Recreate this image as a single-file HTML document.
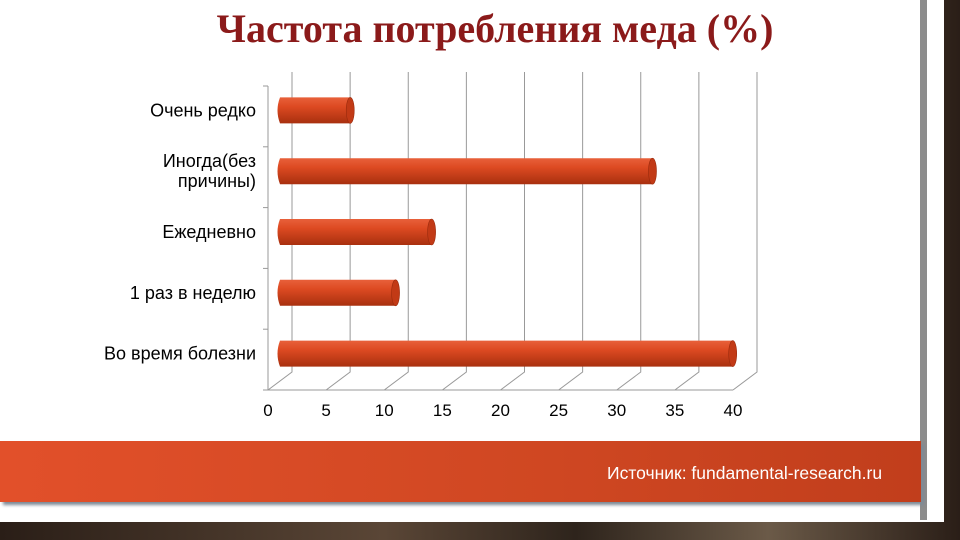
<!DOCTYPE html>
<html><head><meta charset="utf-8"><style>
body{margin:0;width:960px;height:540px;overflow:hidden;background:#3a2a20;font-family:"Liberation Sans",sans-serif}
#bg{position:absolute;left:0;top:0;width:960px;height:540px;background:linear-gradient(90deg,#2a1e17,#5a4636 40%,#2e241c 60%,#6b5a48 80%,#2a1e17)}
#slide{position:absolute;left:0;top:0;width:944px;height:522px;background:#fff}
#edge{position:absolute;left:920px;top:0;width:7px;height:520px;background:#8c8c8c}
#title{position:absolute;left:0;width:990px;top:5px;text-align:center;font-family:"Liberation Serif",serif;font-weight:bold;font-size:40px;color:#8b1a1a}
#band{position:absolute;left:0;top:441px;width:921px;height:61px;background:linear-gradient(90deg,#e2502a,#cf4722 60%,#c13e1c);box-shadow:3px 3px 3px #7d8a96}
#src{position:absolute;left:607px;top:463px;color:#fff;font-size:17.5px}
</style></head><body>
<div id="bg"></div>
<div id="slide"></div>
<div id="edge"></div>
<div id="title">Частота потребления меда (%)</div>
<svg id="chart" width="960" height="540" style="position:absolute;left:0;top:0">
<defs><linearGradient id="bg1" x1="0" y1="0" x2="0" y2="1"><stop offset="0" stop-color="#e8603a"/><stop offset="0.35" stop-color="#dd4a22"/><stop offset="1" stop-color="#a8300f"/></linearGradient></defs>
</svg>
<div id="band"></div>
<div id="src">Источник: fundamental-research.ru</div>
<script>
const categories=["Очень редко","Иногда(без причины)","Ежедневно","1 раз в неделю","Во время болезни"];
const values=[6.3,32.3,13.3,10.2,39.2];
const ticks=[0,5,10,15,20,25,30,35,40];
const svg=document.getElementById('chart');const NS='http://www.w3.org/2000/svg';
const x0=268,x1=733,vmax=40,yTop=86,yBot=390,dx=24,dy=-18;
const x=v=>x0+(x1-x0)*v/vmax;
const band=(yBot-yTop)/categories.length;
function mk(t,a,p){const e=document.createElementNS(NS,t);for(const k in a)e.setAttribute(k,a[k]);(p||svg).appendChild(e);return e;}
ticks.forEach(t=>{
 const g=mk('path',{d:`M${x(t)},${yBot} L${x(t)+dx},${yBot+dy} L${x(t)+dx},${yTop-14}`,stroke:'#999',fill:'none','stroke-width':1});
 
 
 const l=mk('text',{x:x(t),y:yBot+26,'text-anchor':'middle','font-size':17,fill:'#000','font-family':'Liberation Sans'});l.textContent=t;
 
 
});
const ax=mk('path',{d:`M${x0},${yTop} L${x0},${yBot} L${x1},${yBot}`,stroke:'#999',fill:'none'});


for(let i=0;i<=categories.length;i++){const t=mk('line',{x1:x0-5,x2:x0,y1:yTop+i*band,y2:yTop+i*band,stroke:'#999'});
 
 }
categories.forEach((c,i)=>{
 const cy=yTop+band*(i+0.5)-6,h=26,xs=x0+9,xe=xs+(x(values[i])-x0);
 const b=mk('path',{d:`M${xs+3},${cy-h/2} L${xe},${cy-h/2} Q${xe+6},${cy} ${xe},${cy+h/2} L${xs+3},${cy+h/2} Q${xs-2},${cy} ${xs+3},${cy-h/2}Z`,fill:'url(#bg1)'});
 
 
 const e=mk('ellipse',{cx:xe,cy:cy,rx:4,ry:h/2,fill:'#c23a16',stroke:'#9a2a0c','stroke-width':0.6});
 
 
 const parts=c==="Иногда(без причины)"?["Иногда(без","причины)"]:[c];
 parts.forEach((p,j)=>{const t=mk('text',{x:256,y:cy+6+(j-(parts.length-1)/2)*20,'text-anchor':'end','font-size':18,fill:'#000','font-family':'Liberation Sans'});t.textContent=p;
  
  });
});
</script>
</body></html>
